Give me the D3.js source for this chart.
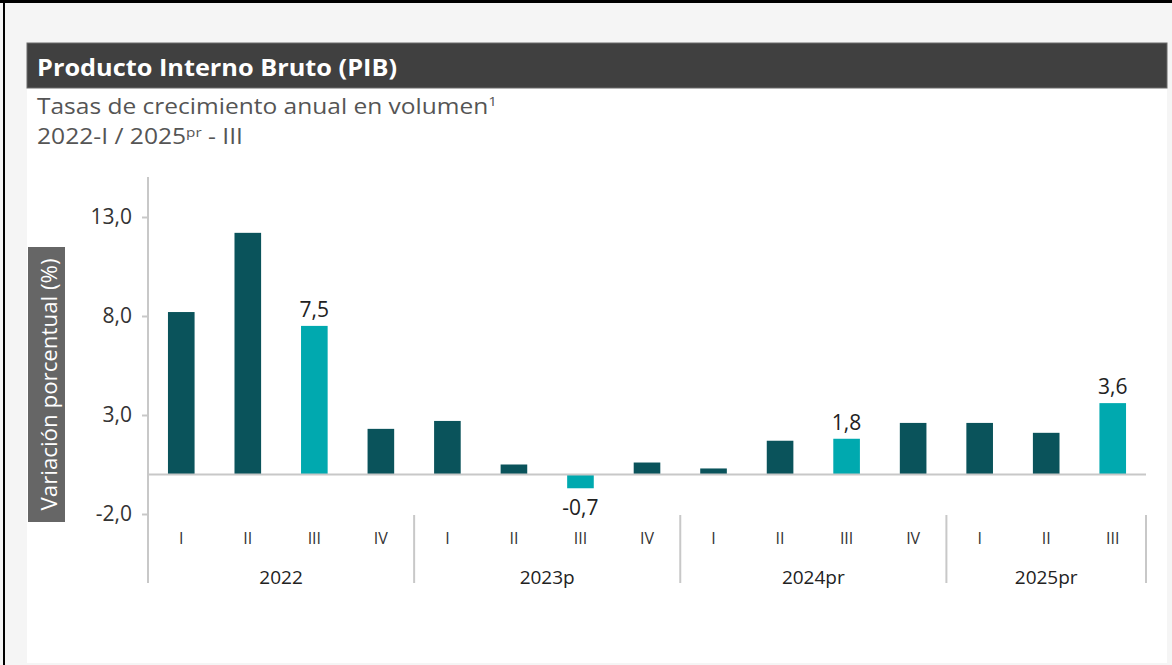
<!DOCTYPE html>
<html>
<head>
<meta charset="utf-8">
<script src="https://cdn.jsdelivr.net/npm/d3@7"></script>
<style>
  html, body { margin: 0; padding: 0; background: #f5f5f5; }
  svg { display: block; font-family: "Open Sans", sans-serif; }
</style>
</head>
<body>
<svg id="chart" width="1172" height="665"></svg>
<script>
"use strict"

// data
const years = ["2022", "2023p", "2024pr", "2025pr"];
const quarters = ["I", "II", "III", "IV"];
const periods = [
  "2022-I", "2022-II", "2022-III", "2022-IV",
  "2023-I", "2023-II", "2023-III", "2023-IV",
  "2024-I", "2024-II", "2024-III", "2024-IV",
  "2025-I", "2025-II", "2025-III"
];
const values = [8.2, 12.2, 7.5, 2.3, 2.7, 0.5, -0.7, 0.6, 0.3, 1.7, 1.8, 2.6, 2.6, 2.1, 3.6];
const highlighted = ["2022-III", "2023-III", "2024-III", "2025-III"];
const yTicks = [-2, 3, 8, 13];

const svg = d3.select("#chart");
const W = 1172, H = 665;

// frame
svg.append("rect").attr("x", 0).attr("y", 0).attr("width", W).attr("height", 3).attr("fill", "#000");
svg.append("rect").attr("x", 3).attr("y", 0).attr("width", 2).attr("height", H).attr("fill", "#000");
svg.append("rect").attr("x", 27).attr("y", 43).attr("width", 1140).attr("height", 620).attr("fill", "#fff");

// title bar
svg.append("rect").attr("x", 27).attr("y", 43).attr("width", 1140).attr("height", 45)
  .attr("fill", "#404040").attr("stroke", "#6a6a6a").attr("stroke-width", 1);
svg.append("text").attr("x", 37).attr("y", 76)
  .attr("fill", "#fff").attr("font-size", 23).attr("font-weight", 700)
  .attr("textLength", 360).attr("lengthAdjust", "spacingAndGlyphs")
  .text("Producto Interno Bruto (PIB)");

const sub1 = svg.append("text").attr("x", 37).attr("y", 114)
  .attr("fill", "#555").attr("font-size", 21)
  .attr("textLength", 460).attr("lengthAdjust", "spacingAndGlyphs");
sub1.append("tspan").text("Tasas de crecimiento anual en volumen");
sub1.append("tspan").text("1").attr("font-size", 13).attr("dy", -8);

const sub2 = svg.append("text").attr("x", 37).attr("y", 144)
  .attr("fill", "#555").attr("font-size", 21)
  .attr("textLength", 206).attr("lengthAdjust", "spacingAndGlyphs");
sub2.append("tspan").text("2022-I / 2025");
sub2.append("tspan").text("pr").attr("font-size", 13).attr("dy", -7);
sub2.append("tspan").text(" - III").attr("dy", 7);

// scales
const x = d3.scaleBand().domain(periods).range([148, 1146])
  .paddingInner(0.6).paddingOuter(0.3);
const y = d3.scaleLinear().domain([-2, 15]).range([514, 177.4]);

const fmt = v => d3.format(".1f")(v).replace("\u2212", "-").replace(".", ",");

// y axis
const yAxis = svg.append("g").attr("transform", "translate(148,0)")
  .call(d3.axisLeft(y).tickValues(yTicks).tickSize(6).tickPadding(10).tickFormat(fmt));
yAxis.select(".domain").remove();
yAxis.selectAll(".tick line").attr("stroke", "#c8c8c8").attr("stroke-width", 2);
yAxis.selectAll(".tick text").attr("fill", "#333").attr("font-size", 21)
  .attr("font-family", "Open Sans, sans-serif");

svg.append("line").attr("x1", 148).attr("x2", 148).attr("y1", 177).attr("y2", 583)
  .attr("stroke", "#c8c8c8").attr("stroke-width", 2);

// y title
svg.append("rect").attr("x", 28).attr("y", 247).attr("width", 37).attr("height", 275).attr("fill", "#666");
svg.append("text").attr("transform", "translate(57,384.5) rotate(-90)")
  .attr("text-anchor", "middle").attr("fill", "#fff").attr("font-size", 21)
  .attr("textLength", 252).attr("lengthAdjust", "spacingAndGlyphs")
  .text("Variación porcentual (%)");

// bars
svg.append("g").selectAll("rect").data(periods).join("rect")
  .attr("x", d => x(d))
  .attr("width", x.bandwidth())
  .attr("y", (d, i) => y(Math.max(0, values[i])))
  .attr("height", (d, i) => Math.abs(y(values[i]) - y(0)))
  .attr("fill", d => highlighted.includes(d) ? "#00a9af" : "#0a535b");

// zero line
svg.append("line").attr("x1", 148).attr("x2", 1146).attr("y1", y(0)).attr("y2", y(0))
  .attr("stroke", "#c8c8c8").attr("stroke-width", 2);

// value labels on highlighted bars
svg.append("g").selectAll("text").data(periods.filter(d => highlighted.includes(d))).join("text")
  .attr("x", d => x(d) + x.bandwidth() / 2)
  .attr("y", d => {
    const v = values[periods.indexOf(d)];
    return v >= 0 ? y(v) - 9 : y(v) + 27;
  })
  .attr("text-anchor", "middle").attr("fill", "#222").attr("font-size", 21)
  .text(d => fmt(values[periods.indexOf(d)]));

// quarter labels
svg.append("g").selectAll("text").data(periods).join("text")
  .attr("x", d => x(d) + x.bandwidth() / 2)
  .attr("y", 544)
  .attr("text-anchor", "middle").attr("fill", "#333").attr("font-size", 16)
  .text(d => d.split("-")[1]);

// year groups
const half = (x.step() - x.bandwidth()) / 2;
const groups = years.map(yr => {
  const first = periods.filter(p => p.startsWith(yr.slice(0, 4)));
  const x0 = x(first[0]) - half;
  const x1 = x(first[first.length - 1]) + x.bandwidth() + half;
  return { yr, x0, x1 };
});

svg.append("g").selectAll("line").data(groups).join("line")
  .attr("x1", d => d.x1).attr("x2", d => d.x1)
  .attr("y1", 515).attr("y2", 583)
  .attr("stroke", "#c8c8c8").attr("stroke-width", 2);

svg.append("g").selectAll("text").data(groups).join("text")
  .attr("x", d => (d.x0 + d.x1) / 2)
  .attr("y", 584)
  .attr("text-anchor", "middle").attr("fill", "#222").attr("font-size", 19)
  .text(d => d.yr);
</script>
</body>
</html>
